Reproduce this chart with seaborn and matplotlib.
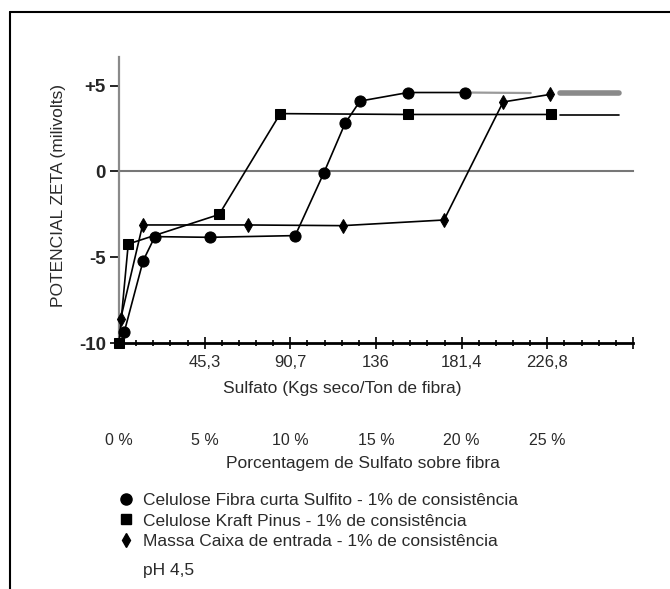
import numpy as np
import pandas as pd
import matplotlib
matplotlib.use("Agg")
import matplotlib.pyplot as plt
from matplotlib.lines import Line2D
import seaborn as sns

# ---------------- data ----------------
sulfito_x = [2.8, 12.8, 19.0, 48.0, 93.3, 108.4, 119.7, 127.6, 153.1, 183.2]
sulfito_y = [-9.35, -5.2, -3.8, -3.84, -3.74, -0.1, 2.8, 4.1, 4.6, 4.6]
sulfito_tail_x = [183.2, 218.0]
sulfito_tail_y = [4.6, 4.57]

kraft_x = [0.0, 4.9, 53.0, 85.4, 153.1, 228.8]
kraft_y = [-10.0, -4.23, -2.51, 3.37, 3.32, 3.32]

massa_x = [0.9, 12.5, 68.3, 118.4, 172.1, 203.4, 228.4]
massa_y = [-8.58, -3.12, -3.12, -3.16, -2.83, 4.05, 4.49]

stub_x = [233.7, 264.5]
stub_sulfito_y = [4.55, 4.55]
stub_kraft_y = [3.27, 3.27]

kg_ticks = [0, 45.36, 90.72, 136.08, 181.44, 226.8, 272.16]
kg_labels = ["", "45,3", "90,7", "136", "181,4", "226,8", ""]
pct_ticks = [0, 5, 10, 15, 20, 25]
pct_labels = ["0 %", "5 %", "10 %", "15 %", "20 %", "25 %"]
y_ticks = [-10, -5, 0, 5]
y_labels = ["-10", "-5", "0", "+5"]

legend_labels = ["Celulose Fibra curta Sulfito - 1% de consistência",
                 "Celulose Kraft Pinus - 1% de consistência",
                 "Massa Caixa de entrada - 1% de consistência"]

# ---------------- style ----------------
sns.set_style("white")
plt.rcParams["font.family"] = ["Liberation Sans", "DejaVu Sans"]
TXT = "#2a2a2a"
FS = 12.5

W, H = 670, 589
fig = plt.figure(figsize=(W / 100, H / 100), dpi=100)
fig.patch.set_facecolor("white")

def fx(px):
    return px / W

def fy(py):
    return 1 - py / H

rect = [fx(119), fy(343), (633 - 119) / W, (343 - 57) / H]

ax = fig.add_axes(rect)
ax0 = fig.add_axes(rect, sharex=ax)
ax0.set_zorder(0)
ax.set_zorder(1)
ax.patch.set_visible(False)
ax0.patch.set_visible(False)

XMAX = 272.16
YMIN, YMAX = -10, 6.67
ax.set_xlim(0, XMAX)
ax.set_ylim(YMIN, YMAX)
ax0.set_ylim(YMIN, YMAX)

minor = np.arange(0, XMAX + 0.1, 9.072)

# zero line with ticks (second axes whose bottom spine sits at y=0)
for s in ["top", "right", "left"]:
    ax0.spines[s].set_visible(False)
ax0.spines["bottom"].set_position(("data", 0))
ax0.spines["bottom"].set_color("#777777")
ax0.spines["bottom"].set_linewidth(1.5)
ax0.set_yticks([])
ax0.set_xticks(kg_ticks)
ax0.set_xticks(minor, minor=True)
ax0.tick_params(axis="x", which="both", direction="inout", labelbottom=False,
                color="black", width=1.1)
ax0.tick_params(axis="x", which="major", length=9)
ax0.tick_params(axis="x", which="minor", length=4.5)

# main axes
ax.spines["top"].set_visible(False)
ax.spines["right"].set_visible(False)
ax.spines["bottom"].set_color("black")
ax.spines["bottom"].set_linewidth(2)
ax.spines["left"].set_color("#8a8a8a")
ax.spines["left"].set_linewidth(1.6)
ax.set_xticks(kg_ticks, labels=kg_labels)
ax.set_xticks(minor, minor=True)
ax.tick_params(axis="x", which="both", direction="inout", color="black",
               width=1.2, labelsize=12, labelcolor=TXT, bottom=True)
ax.tick_params(axis="x", which="major", length=9, pad=4)
ax.tick_params(axis="x", which="minor", length=4.5)
ax.set_yticks(y_ticks, labels=y_labels)
ax.tick_params(axis="y", direction="out", length=6.5, width=1.2, color="black",
               labelsize=13.5, pad=3, left=True)
for t in ax.get_yticklabels():
    t.set_fontweight("bold")

# data
lw = 1.2
sns.lineplot(x=sulfito_x, y=sulfito_y, ax=ax, color="black", lw=lw, marker="o",
             markersize=8, markeredgecolor="black", sort=False, estimator=None,
             clip_on=False, zorder=5)
sns.lineplot(x=sulfito_tail_x, y=sulfito_tail_y, ax=ax, color="#9a9a9a", lw=1.6,
             sort=False, estimator=None, clip_on=False, zorder=4)
sns.lineplot(x=kraft_x, y=kraft_y, ax=ax, color="black", lw=lw, marker="s",
             markersize=7.5, markeredgecolor="black", sort=False, estimator=None,
             clip_on=False, zorder=5)
sns.lineplot(x=massa_x, y=massa_y, ax=ax, color="black", lw=lw, marker="d",
             markersize=7, markeredgecolor="black", sort=False, estimator=None,
             clip_on=False, zorder=5)
sns.lineplot(x=stub_x, y=stub_sulfito_y, ax=ax, color="#8a8a8a", lw=4,
             sort=False, estimator=None, clip_on=False)
sns.lineplot(x=stub_x, y=stub_kraft_y, ax=ax, color="black", lw=1.2,
             sort=False, estimator=None, clip_on=False)

# axis labels
ax.set_xlabel("Sulfato (Kgs seco/Ton de fibra)", fontsize=FS, color=TXT)
ax.xaxis.set_label_coords((342 - 119) / 514, -(381 - 343) / 286)
ax.set_ylabel("POTENCIAL ZETA (milivolts)", fontsize=FS, color=TXT)
ax.yaxis.set_label_coords((66 - 119) / 514, (343 - 195) / 286)

# percentage axis
sec = ax.secondary_xaxis(-(432 - 343) / 286,
                         functions=(lambda x: x / 9.072, lambda p: p * 9.072))
sec.spines["bottom"].set_visible(False)
sec.set_xticks(pct_ticks, labels=pct_labels)
sec.tick_params(axis="x", length=0, pad=1, labelsize=11.5, labelcolor=TXT)
sec.set_xlabel("Porcentagem de Sulfato sobre fibra", fontsize=FS, color=TXT)
sec.xaxis.set_label_coords((363 - 119) / 514, -(456 - 343) / 286,
                           transform=ax.transAxes)

# legend
handles = [Line2D([], [], ls="", marker="o", color="black", ms=8),
           Line2D([], [], ls="", marker="s", color="black", ms=7),
           Line2D([], [], ls="", marker="d", color="black", ms=7.5)]
fig.legend(handles, legend_labels, loc="upper left",
           bbox_to_anchor=(fx(117.5), fy(493)), frameon=False, fontsize=FS,
           handlelength=1.0, handletextpad=0.45, labelspacing=0.3,
           borderpad=0, borderaxespad=0, labelcolor=TXT)
fig.text(fx(143), fy(570), "pH 4,5", fontsize=FS, color=TXT, va="center")

# outer frame (left and top edges visible)
fig.add_artist(Line2D([fx(10), fx(10)], [fy(12), 0], color="black", lw=1.5,
                      transform=fig.transFigure))
fig.add_artist(Line2D([fx(10), 1], [fy(12), fy(12)], color="black", lw=1.5,
                      transform=fig.transFigure))

fig.savefig("out.png", dpi=100, facecolor="white")
